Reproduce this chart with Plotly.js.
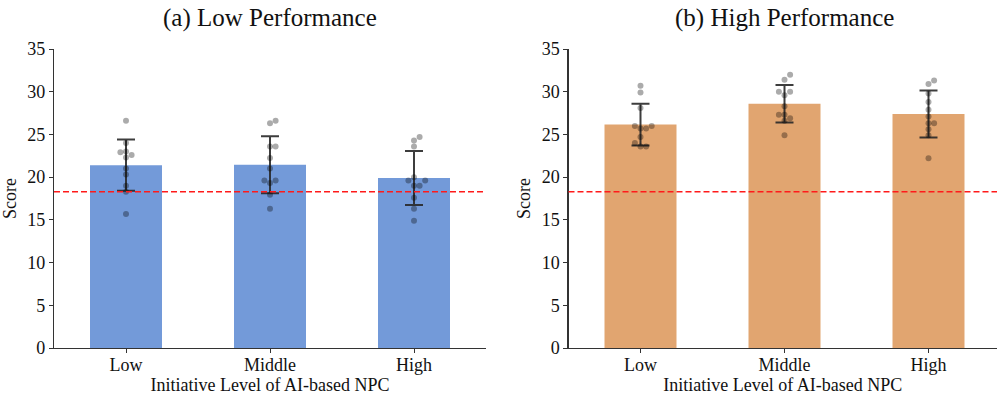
<!DOCTYPE html>
<html>
<head>
<meta charset="utf-8">
<script src="https://cdn.plot.ly/plotly-3.0.1.min.js"></script>
<style>html,body{margin:0;padding:0;background:#fff;}#chart{width:997px;height:398px;}</style>
</head>
<body>
<div id="chart"></div>
<script>
// ---- data ----
const categories = ["Low", "Middle", "High"];
const panelTitles = ["(a) Low Performance", "(b) High Performance"];
const xTitle = "Initiative Level of AI-based NPC";
const yTitle = "Score";
const yTicks = [0, 5, 10, 15, 20, 25, 30, 35];
const threshold = 18.3;

const lowPerfMeans = [21.4, 21.45, 19.9];
const lowPerfErr = [3.0, 3.35, 3.15];
const lowPerfLowPoints = [26.6, 24.0, 23.0, 22.9, 22.6, 22.3, 21.0, 20.3, 19.0, 18.3, 15.7];
const lowPerfMidPoints = [26.6, 26.3, 23.6, 23.6, 22.25, 21.0, 19.6, 19.6, 19.3, 17.95, 16.3];
const lowPerfHighPoints = [24.7, 24.3, 23.6, 20.0, 19.6, 19.6, 19.0, 19.0, 17.6, 16.3, 14.9];

const highPerfMeans = [26.15, 28.6, 27.4];
const highPerfErr = [2.45, 2.2, 2.75];
const highPerfLowPoints = [30.7, 29.9, 28.1, 26.0, 26.0, 25.7, 25.7, 24.7, 24.0, 23.6, 23.6];
const highPerfMidPoints = [32.0, 31.4, 30.0, 30.0, 29.6, 28.3, 27.3, 27.3, 26.9, 26.6, 24.9];
const highPerfHighPoints = [31.3, 30.9, 29.8, 28.8, 27.9, 27.1, 26.3, 26.3, 25.6, 24.9, 22.2];

// ---- styling / layout ----
const W = 997, H = 398;
const serif = "Liberation Serif, Times New Roman, serif";
const blue = "#739ad9";
const orange = "#e1a570";
const leftDom = [54 / W, 486 / W];
const rightDom = [568.5 / W, 1.0];
const yDom = [1 - 348 / H, 1 - 49 / H];
const xRangeL = [-0.5, 2.5];
const xRangeR = [-0.5, -0.5 + (W - 568.5) / 144];
const yRange = [0, 35];

function swarm(values, pxPerX, pxPerY, d) {
  // simple beeswarm: place each point at the offset nearest to the centre that avoids overlap
  const idx = values.map((v, i) => i).sort((a, b) => values[a] - values[b]);
  const placed = [];
  const offs = new Array(values.length).fill(0);
  idx.forEach(i => {
    const y = values[i] * pxPerY;
    const cands = [0];
    for (let k = 1; k < 8; k++) { cands.push(k * d, -k * d); }
    for (const c of cands) {
      let ok = true;
      for (const p of placed) {
        const dx = p.x - c, dy = p.y - y;
        if (dx * dx + dy * dy < d * d * 0.95) { ok = false; break; }
      }
      if (ok) { placed.push({x: c, y: y}); offs[i] = c / pxPerX; break; }
    }
  });
  return offs;
}

function panelTraces(means, errs, groups, color, xa, ya, dom, xr) {
  const plotW = (dom[1] - dom[0]) * W;
  const pxPerX = plotW / (xr[1] - xr[0]);
  const pxPerY = (yDom[1] - yDom[0]) * H / (yRange[1] - yRange[0]);
  const traces = [{
    type: "bar", x: [0, 1, 2], y: means, width: 0.5,
    marker: {color: color, line: {width: 0}},
    error_y: {type: "data", array: errs, visible: true, color: "rgba(40,40,40,0.9)", thickness: 2, width: 9},
    xaxis: xa, yaxis: ya, hoverinfo: "skip", showlegend: false
  }];
  const px = [], py = [];
  groups.forEach((g, gi) => {
    const offs = swarm(g, pxPerX, pxPerY, 5.6);
    g.forEach((v, i) => { px.push(gi + offs[i]); py.push(v); });
  });
  traces.push({
    type: "scatter", mode: "markers", x: px, y: py,
    marker: {color: "rgba(0,0,0,0.33)", size: 6, line: {width: 0}},
    xaxis: xa, yaxis: ya, hoverinfo: "skip", showlegend: false
  });
  return traces;
}

const data = [
  ...panelTraces(lowPerfMeans, lowPerfErr, [lowPerfLowPoints, lowPerfMidPoints, lowPerfHighPoints], blue, "x", "y", leftDom, xRangeL),
  ...panelTraces(highPerfMeans, highPerfErr, [highPerfLowPoints, highPerfMidPoints, highPerfHighPoints], orange, "x2", "y2", rightDom, xRangeR)
];

function xAxis(dom, range, anchor) {
  return {
    domain: dom, range: range, anchor: anchor, tickmode: "array", tickvals: [0, 1, 2], ticktext: categories,
    showline: true, linecolor: "#333", linewidth: 1.2, ticks: "outside", ticklen: 4, tickcolor: "#333",
    ticklabelstandoff: -4,
    showgrid: false, zeroline: false, fixedrange: true,
    tickfont: {family: serif, size: 18, color: "#111"},
    title: {text: xTitle, font: {family: serif, size: 18, color: "#111"}, standoff: 4}
  };
}
function yAxis(anchor) {
  return {
    domain: yDom, range: yRange, anchor: anchor, tickmode: "array", tickvals: yTicks,
    showline: true, linecolor: "#333", linewidth: 1.2, ticks: "outside", ticklen: 4, tickcolor: "#333",
    showgrid: false, zeroline: false, fixedrange: true,
    tickfont: {family: serif, size: 18, color: "#111"},
    title: {text: yTitle, font: {family: serif, size: 18, color: "#111"}, standoff: 6}
  };
}

const layout = {
  width: W, height: H,
  margin: {l: 0, r: 0, t: 0, b: 0, pad: 0},
  paper_bgcolor: "#fff", plot_bgcolor: "#fff",
  showlegend: false, bargap: 0.5,
  xaxis: xAxis(leftDom, xRangeL, "y"),
  yaxis: yAxis("x"),
  xaxis2: xAxis(rightDom, xRangeR, "y2"),
  yaxis2: yAxis("x2"),
  shapes: [
    {type: "line", xref: "x domain", yref: "y", x0: 0, x1: 1, y0: threshold, y1: threshold,
     line: {color: "#ff1a1a", width: 1.5, dash: "6px,3px"}},
    {type: "line", xref: "x2 domain", yref: "y2", x0: 0, x1: 1, y0: threshold, y1: threshold,
     line: {color: "#ff1a1a", width: 1.5, dash: "6px,3px"}}
  ],
  annotations: [
    {text: panelTitles[0], xref: "paper", yref: "paper", x: (leftDom[0] + leftDom[1]) / 2, y: 1 - 18 / H,
     xanchor: "center", yanchor: "middle", showarrow: false, font: {family: serif, size: 25, color: "#111"}},
    {text: panelTitles[1], xref: "paper", yref: "paper", x: (rightDom[0] + 1000 / W) / 2, y: 1 - 18 / H,
     xanchor: "center", yanchor: "middle", showarrow: false, font: {family: serif, size: 25, color: "#111"}}
  ]
};

Plotly.newPlot("chart", data, layout, {displayModeBar: false, staticPlot: true});
</script>
</body>
</html>
